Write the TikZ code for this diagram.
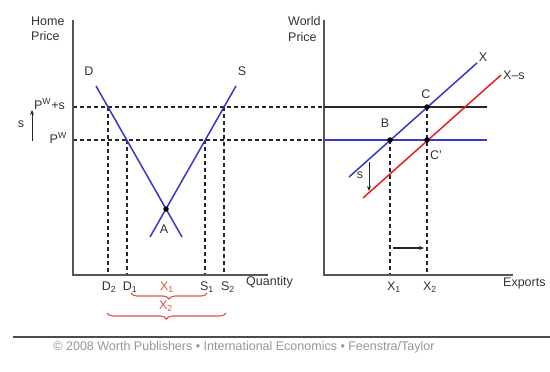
\documentclass[tikz,border=0pt]{standalone}
\usepackage{fontspec}
\setmainfont{Liberation Sans}
\usetikzlibrary{decorations.pathreplacing,arrows.meta}
\definecolor{curveblue}{RGB}{55,55,200}
\definecolor{curvered}{RGB}{230,30,35}
\definecolor{labelred}{RGB}{232,80,70}
\definecolor{axisgray}{RGB}{85,85,85}
\definecolor{footgray}{RGB}{150,150,150}
\begin{document}
\begin{tikzpicture}[x=1pt,y=-1pt,
  font=\fontsize{12.5}{14}\selectfont,
  axisline/.style={draw=axisgray,line width=1.6pt},
  guide/.style={draw=black!85,line width=1.1pt,dash pattern=on 4pt off 3pt},
  bluecurve/.style={draw=curveblue,line width=1.5pt},
  redcurve/.style={draw=curvered,line width=1.5pt},
  dot/.style={circle,fill=black,inner sep=0pt,minimum size=5.5pt},
  lbl/.style={inner sep=0pt,text=black!80},
  redlbl/.style={inner sep=0pt,text=labelred},
  redbrace/.style={draw=labelred,line width=1.1pt,decorate,decoration={brace,amplitude=6pt}},
  shiftarrow/.style={draw=black!85,line width=1.2pt,-{Stealth[length=5pt,width=4pt]}}]
\useasboundingbox (0,0) rectangle (550,372);

% ---------- coordinates ----------
% left panel
\coordinate (Ltop) at (73,20);
\coordinate (Lo) at (73,275);
\coordinate (Lend) at (268,275);
\coordinate (Dtop) at (96,86);
\coordinate (Dbot) at (182,237);
\coordinate (Stop) at (236,86);
\coordinate (Sbot) at (150,237);
\coordinate (Apt) at (166,209);
\coordinate (D2p) at (108,107);
\coordinate (D1p) at (127,140);
\coordinate (S1p) at (205,140);
\coordinate (S2p) at (224,107);
\coordinate (D2b) at (108,275);
\coordinate (D1b) at (127,275);
\coordinate (S1b) at (205,275);
\coordinate (S2b) at (224,275);
\coordinate (PsL) at (73,107);
\coordinate (PwL) at (73,140);
\coordinate (sArrA) at (32,141);
\coordinate (sArrB) at (32,110);
% right panel
\coordinate (Rtop) at (324,20);
\coordinate (Ro) at (324,275);
\coordinate (Rend) at (513,275);
\coordinate (PsR) at (324,107);
\coordinate (PwR) at (324,140);
\coordinate (PsE) at (487,107);
\coordinate (PwE) at (487,140);
\coordinate (Xa) at (349,177);
\coordinate (Xb) at (477,63);
\coordinate (XSa) at (363,198);
\coordinate (XSb) at (501,75);
\coordinate (Bpt) at (390,140);
\coordinate (Cpt) at (427,107);
\coordinate (Cppt) at (427,140);
\coordinate (X1b) at (390,275);
\coordinate (X2b) at (427,275);
\coordinate (rsA) at (369,162);
\coordinate (rsB) at (369,191);
\coordinate (mvA) at (393,248);
\coordinate (mvB) at (424,248);
% braces
\coordinate (b1L) at (131,293);
\coordinate (b1R) at (207,293);
\coordinate (b2L) at (107,313);
\coordinate (b2R) at (226,313);
% footer rule
\coordinate (ruleL) at (13,337);
\coordinate (ruleR) at (550,337);

% ---------- guides ----------
\draw[guide] (PsL) -- (PsR);
\draw[guide] (PwL) -- (PwR);
\draw[guide] (D2p) -- (D2b);
\draw[guide] (D1p) -- (D1b);
\draw[guide] (S1p) -- (S1b);
\draw[guide] (S2p) -- (S2b);
\draw[guide] (Bpt) -- (X1b);
\draw[guide] (Cpt) -- (X2b);

% ---------- axes ----------
\draw[axisline] (Ltop) -- (Lo) -- (Lend);
\draw[axisline] (Rtop) -- (Ro) -- (Rend);

% ---------- curves ----------
\draw[bluecurve] (Dtop) -- (Dbot);
\draw[bluecurve] (Stop) -- (Sbot);
\draw[draw=black!85,line width=1.5pt] (PsR) -- (PsE);
\draw[bluecurve] (PwR) -- (PwE);
\draw[bluecurve] (Xa) -- (Xb);
\draw[redcurve] (XSa) -- (XSb);

% ---------- arrows ----------
\draw[shiftarrow,line width=0.8pt] (sArrA) -- (sArrB);
\draw[shiftarrow,line width=0.8pt] (rsA) -- (rsB);
\draw[shiftarrow] (mvA) -- (mvB);

% ---------- points ----------
\node[dot] (A) at (Apt) {};
\node[dot] (B) at (Bpt) {};
\node[dot] (C) at (Cpt) {};
\node[dot] (Cp) at (Cppt) {};

% ---------- braces ----------
\draw[redbrace] (b1R) -- (b1L);
\draw[redbrace] (b2R) -- (b2L);

% ---------- labels ----------
\node[lbl,anchor=west] (hp1) at (31,21) {Home};
\node[lbl,anchor=west] (hp2) at (31,36) {Price};
\node[lbl] (Dl) at (89,71) {D};
\node[lbl] (Sl) at (242,71) {S};
\node[lbl,anchor=east] (pws) at (65,104) {P\textsuperscript{W}+s};
\node[lbl,anchor=east] (pw) at (67,138) {P\textsuperscript{W}};
\node[lbl] (sl) at (21,124) {s};
\node[lbl] (Al) at (164,229) {A};
\node[lbl] (d2) at (109,287) {D\textsubscript{2}};
\node[lbl] (d1) at (130,287) {D\textsubscript{1}};
\node[redlbl] (x1r) at (167,287) {X\textsubscript{1}};
\node[redlbl] (x2r) at (166,306) {X\textsubscript{2}};
\node[lbl] (s1) at (207,287) {S\textsubscript{1}};
\node[lbl] (s2) at (228,287) {S\textsubscript{2}};
\node[lbl,anchor=west] (qty) at (246,282.5) {Quantity};

\node[lbl,anchor=west] (wp1) at (288,21) {World};
\node[lbl,anchor=west] (wp2) at (288,37) {Price};
\node[lbl] (Xl) at (483,57) {X};
\node[lbl,anchor=west] (XSl) at (503,75) {X–s};
\node[lbl] (Cl) at (426,94) {C};
\node[lbl] (Bl) at (385,123) {B};
\node[lbl,anchor=west] (Cpl) at (430,155) {C'};
\node[lbl] (rs) at (360,175) {s};
\node[lbl] (x1) at (394,287) {X\textsubscript{1}};
\node[lbl] (x2) at (430,287) {X\textsubscript{2}};
\node[lbl,anchor=west] (exp) at (503,283) {Exports};

% ---------- footer ----------
\draw[draw=black!70,line width=1.4pt] (ruleL) -- (ruleR);
\node[inner sep=0pt,text=footgray,font=\fontsize{12.5}{14}\selectfont] (foot) at (244,347)
  {© 2008 Worth Publishers • International Economics • Feenstra/Taylor};
\end{tikzpicture}
\end{document}
